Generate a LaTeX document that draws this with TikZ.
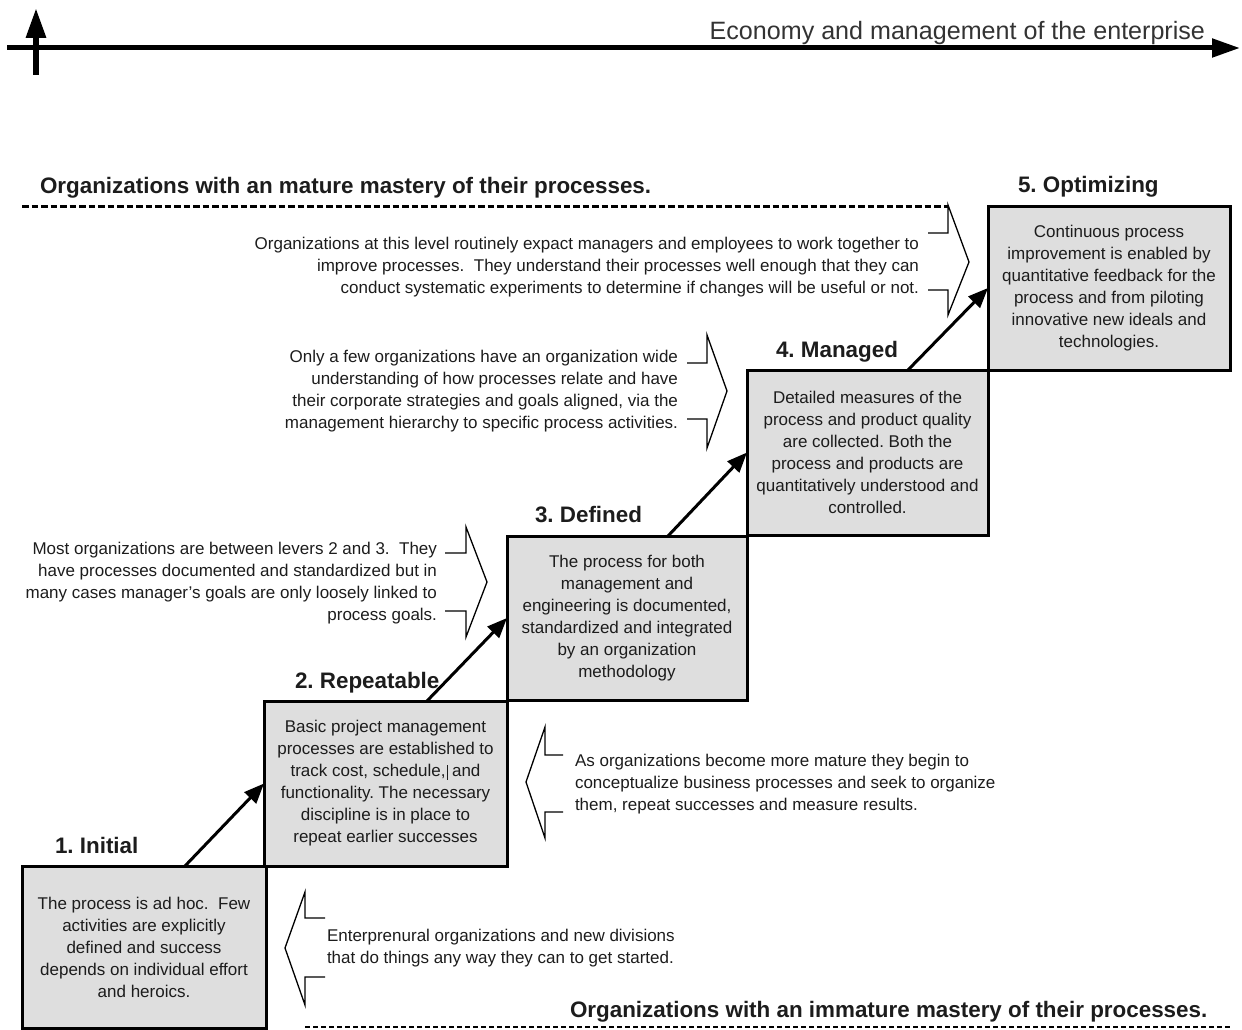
\documentclass[tikz,border=0pt]{standalone}
\usepackage{fontspec}
\setmainfont{Liberation Sans}
\usetikzlibrary{arrows.meta}
\definecolor{boxgrey}{RGB}{222,222,222}
\definecolor{ink}{RGB}{28,28,28}
\frenchspacing
\begin{document}
\begin{tikzpicture}[x=1pt,y=-1pt,
  every node/.style={inner sep=0pt, outer sep=0pt, text=ink},
  stage/.style={draw=black, line width=3pt, fill=boxgrey, align=center, font=\fontsize{17}{22}\selectfont\frenchspacing},
  stagetitle/.style={font=\bfseries\fontsize{22.4}{26}\selectfont\frenchspacing, anchor=base west},
  note/.style={font=\fontsize{17}{22}\selectfont\frenchspacing},
  chev/.style={line width=1.3pt, line join=miter},
  stairarrow/.style={line width=3pt, -{Triangle[length=20pt,width=16pt]}},
  axis/.style={line width=5pt, -{Triangle[length=28pt,width=18pt]}},
  topdash/.style={line width=3pt, dash pattern=on 6.5pt off 3pt},
  botdash/.style={line width=1.5pt, dash pattern=on 5pt off 3pt},
]
\useasboundingbox (0,0) rectangle (1242,1030);

% axes
\coordinate (hx0) at (7,48);
\coordinate (hx1) at (1240,48);
\coordinate (vy0) at (36,75);
\coordinate (vy1) at (36,8);
\draw[axis] (hx0) -- (hx1);
\draw[axis, line width=6pt, -{Triangle[length=30pt,width=19pt]}] (vy0) -- (vy1);
\node[font=\fontsize{25.1}{29}\selectfont, anchor=base east, text=black!80] (econ) at (1205,40) {Economy and management of the enterprise};

% stage boxes
\node[stage, minimum width=244pt, minimum height=162pt] (b1) at (144,947)
  {The process is ad hoc.\ \ Few\\activities are explicitly\\defined and success\\depends on individual effort\\and heroics.};
\node[stage, minimum width=243pt, minimum height=165pt] (b2) at (385.5,783.5)
  {Basic project management\\processes are established to\\track cost, schedule,\kern1pt\rule[-3pt]{0.8pt}{15pt} and\\functionality. The necessary\\discipline is in place to\\repeat earlier successes};
\node[stage, minimum width=240pt, minimum height=164pt] (b3) at (627,618)
  {The process for both\\management and\\engineering is documented,\\standardized and integrated\\by an organization\\methodology};
\node[stage, minimum width=241pt, minimum height=165pt] (b4) at (867.5,452.5)
  {Detailed measures of the\\process and product quality\\are collected. Both the\\process and products are\\quantitatively understood and\\controlled.};
\node[stage, minimum width=242pt, minimum height=164pt] (b5) at (1109,288)
  {Continuous process\\improvement is enabled by\\quantitative feedback for the\\process and from piloting\\innovative new ideals and\\technologies.};

% stage titles
\node[stagetitle] (s1) at (55,853) {1. Initial};
\node[stagetitle] (s2) at (295,688) {2. Repeatable};
\node[stagetitle] (s3) at (535,522) {3. Defined};
\node[stagetitle] (s4) at (776,357) {4. Managed};
\node[stagetitle] (s5) at (1018,192) {5. Optimizing};

% stair arrows
\draw[stairarrow] ([xshift=-81pt]b1.north east) -- (b2.west);
\draw[stairarrow] ([xshift=-80pt]b2.north east) -- (b3.west);
\draw[stairarrow] ([xshift=-79pt]b3.north east) -- (b4.west);
\draw[stairarrow] ([xshift=-80pt]b4.north east) -- (b5.west);

% headings and dashed borders
\node[stagetitle] (hmature) at (40,193) {Organizations with an mature mastery of their processes.};
\node[stagetitle] (himmature) at (570,1017) {Organizations with an immature mastery of their processes.};
\coordinate (d0) at (22,206);
\coordinate (d1) at (948,206);
\coordinate (e0) at (305,1027);
\coordinate (e1) at (1230,1027);
\draw[topdash] (d0) -- (d1);
\draw[botdash] (e0) -- (e1);

% notes
\node[note, anchor=north east, align=right] (t1) at (919,237.5)
  {Organizations at this level routinely expact managers and employees to work together to\\improve processes.\ \ They understand their processes well enough that they can\\conduct systematic experiments to determine if changes will be useful or not.};
\node[note, anchor=north east, align=right] (t2) at (678,350.5)
  {Only a few organizations have an organization wide\\understanding of how processes relate and have\\their corporate strategies and goals aligned, via the\\management hierarchy to specific process activities.};
\node[note, anchor=north east, align=right] (t3) at (437,542.5)
  {Most organizations are between levers 2 and 3.\ \ They\\have processes documented and standardized but in\\many cases manager's goals are only loosely linked to\\process goals.};
\node[note, anchor=north west, align=left] (t4) at (575,754.5)
  {As organizations become more mature they begin to\\conceptualize business processes and seek to organize\\them, repeat successes and measure results.};
\node[note, anchor=north west, align=left] (t5) at (327,929.5)
  {Enterprenural organizations and new divisions\\that do things any way they can to get started.};

% chevrons
\draw[chev] (928,233) -- (948,233) -- (948,205) -- (969,262) -- (948,315) -- (948,290) -- (928,290);
\draw[chev] (687,363) -- (707,363) -- (707,335) -- (727,391) -- (707,448) -- (707,419) -- (687,419);
\draw[chev] (445,553) -- (466,553) -- (466,527) -- (487,582) -- (466,637) -- (466,611) -- (445,611);
\draw[chev] (563,755) -- (545,755) -- (545,727) -- (526,782) -- (545,838) -- (545,812) -- (563,812);
\draw[chev] (325,918) -- (305,918) -- (305,892) -- (285,948) -- (305,1005) -- (305,977) -- (325,977);
\end{tikzpicture}
\end{document}
